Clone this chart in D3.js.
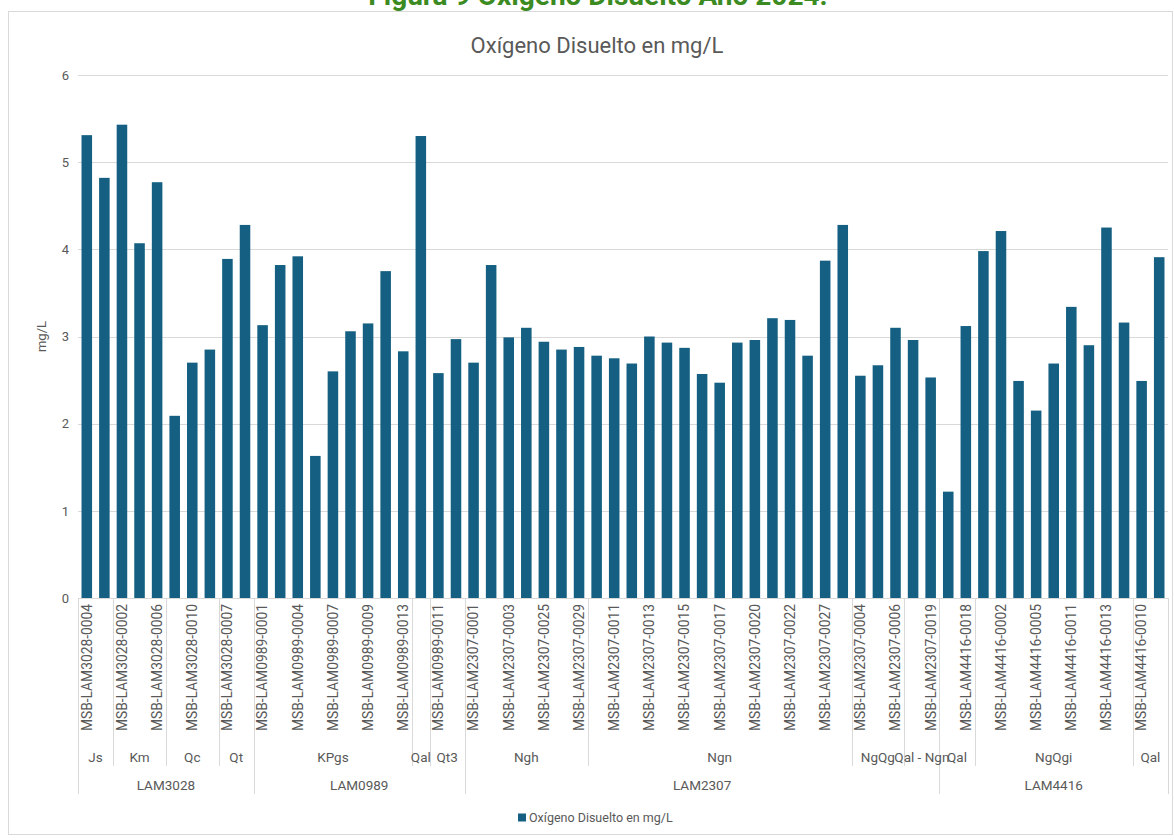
<!DOCTYPE html>
<html>
<head>
<meta charset="utf-8">
<script src="https://cdn.jsdelivr.net/npm/d3@7"></script>
<style>
  html, body { margin: 0; padding: 0; background: #fff; }
  svg { display: block; font-family: Roboto, "Noto Sans", sans-serif; }
</style>
</head>
<body>
<svg id="chart" width="1174" height="840"></svg>
<script>
// ---- data ----
const samples = [
  "MSB-LAM3028-0004","MSB-LAM3028-0001","MSB-LAM3028-0002","MSB-LAM3028-0003","MSB-LAM3028-0006",
  "MSB-LAM3028-0009","MSB-LAM3028-0010","MSB-LAM3028-0011","MSB-LAM3028-0007","MSB-LAM3028-0008",
  "MSB-LAM0989-0001","MSB-LAM0989-0002","MSB-LAM0989-0004","MSB-LAM0989-0005","MSB-LAM0989-0007",
  "MSB-LAM0989-0008","MSB-LAM0989-0009","MSB-LAM0989-0010","MSB-LAM0989-0013","MSB-LAM0989-0012",
  "MSB-LAM0989-0011","MSB-LAM0989-0003",
  "MSB-LAM2307-0001","MSB-LAM2307-0002","MSB-LAM2307-0003","MSB-LAM2307-0024","MSB-LAM2307-0025",
  "MSB-LAM2307-0028","MSB-LAM2307-0029","MSB-LAM2307-0010","MSB-LAM2307-0011","MSB-LAM2307-0012",
  "MSB-LAM2307-0013","MSB-LAM2307-0014","MSB-LAM2307-0015","MSB-LAM2307-0016","MSB-LAM2307-0017",
  "MSB-LAM2307-0018","MSB-LAM2307-0020","MSB-LAM2307-0021","MSB-LAM2307-0022","MSB-LAM2307-0023",
  "MSB-LAM2307-0027","MSB-LAM2307-0026","MSB-LAM2307-0004","MSB-LAM2307-0005","MSB-LAM2307-0006",
  "MSB-LAM2307-0009","MSB-LAM2307-0019",
  "MSB-LAM4416-0017","MSB-LAM4416-0018","MSB-LAM4416-0001","MSB-LAM4416-0002","MSB-LAM4416-0003",
  "MSB-LAM4416-0005","MSB-LAM4416-0006","MSB-LAM4416-0011","MSB-LAM4416-0012","MSB-LAM4416-0013",
  "MSB-LAM4416-0014","MSB-LAM4416-0010","MSB-LAM4416-0009"
];
const values = [
  5.31, 4.82, 5.43, 4.07, 4.77, 2.09, 2.70, 2.85, 3.89, 4.28,
  3.13, 3.82, 3.92, 1.63, 2.60, 3.06, 3.15, 3.75, 2.83, 5.30, 2.58, 2.97,
  2.70, 3.82, 2.99, 3.10, 2.94, 2.85, 2.88,
  2.78, 2.75, 2.69, 3.00, 2.93, 2.87, 2.57, 2.47, 2.93, 2.96, 3.21, 3.19, 2.78, 3.87, 4.28,
  2.55, 2.67, 3.10, 2.96, 2.53,
  1.22, 3.12, 3.98, 4.21, 2.49, 2.15, 2.69, 3.34, 2.90, 4.25, 3.16, 2.49, 3.91
];
const formationLabels = ["Js","Km","Qc","Qt","KPgs","Qal","Qt3","Ngh","Ngn","NgQg","Qal - Ngn","Qal","NgQgi","Qal"];
const formationCounts = [2, 3, 3, 2, 9, 1, 2, 7, 15, 3, 2, 2, 9, 2];
const planchaLabels = ["LAM3028","LAM0989","LAM2307","LAM4416"];
const planchaCounts = [10, 12, 27, 13];
const yTicks = [0, 1, 2, 3, 4, 5, 6];
const seriesName = "Oxígeno Disuelto en mg/L";
const figureTitle = "Figura 9 Oxígeno Disuelto Año 2024.";
const yLabel = "mg/L";

// ---- layout ----
const svg = d3.select("#chart");
const plot = { left: 78, right: 1168, top: 75, bottom: 598 };
const textColor = "#595959";
const gridColor = "#d9d9d9";
const barColor = "#156082";

// chart border
svg.append("rect").attr("x", 8.5).attr("y", 11.5).attr("width", 1164).attr("height", 823)
  .attr("fill", "#fff").attr("stroke", "#d9d9d9").attr("stroke-width", 1);

// figure title (partly cut at top, as in the reference)
svg.append("text").attr("x", 598).attr("y", 5).attr("text-anchor", "middle")
  .attr("font-size", 28).attr("font-weight", 700).attr("fill", "#3b8b22")
  .text(figureTitle);

// chart title
svg.append("text").attr("x", 597).attr("y", 53).attr("text-anchor", "middle")
  .attr("font-size", 22).attr("fill", textColor).text(seriesName);

const x = d3.scaleBand().domain(samples).range([plot.left, plot.right]).paddingInner(0.4).paddingOuter(0.2);
const y = d3.scaleLinear().domain([0, 6]).range([plot.bottom, plot.top]);

// gridlines
svg.append("g").selectAll("line").data(yTicks).join("line")
  .attr("x1", plot.left).attr("x2", plot.right)
  .attr("y1", d => Math.round(y(d)) + 0.5).attr("y2", d => Math.round(y(d)) + 0.5)
  .attr("stroke", gridColor).attr("stroke-width", 1);

// y axis
const yAxis = d3.axisLeft(y).tickValues(yTicks).tickSize(0).tickPadding(0).tickFormat(d3.format("d"));
const gy = svg.append("g").attr("transform", `translate(${plot.left - 9},0)`).call(yAxis);
gy.select(".domain").remove();
gy.selectAll("text").attr("fill", textColor).attr("font-size", 13).attr("font-family", "Roboto, sans-serif");

svg.append("text").attr("transform", `translate(46,${(plot.top + plot.bottom) / 2}) rotate(-90)`)
  .attr("text-anchor", "middle").attr("font-size", 13).attr("fill", textColor).text(yLabel);

// bars
svg.append("g").selectAll("rect").data(samples).join("rect")
  .attr("x", d => x(d)).attr("width", x.bandwidth())
  .attr("y", (d, i) => y(values[i])).attr("height", (d, i) => y(0) - y(values[i]))
  .attr("fill", barColor);

// category axis level 1 (sample ids, every other label shown)
const xAxis = d3.axisBottom(x).tickValues(samples.filter((d, i) => i % 2 === 0)).tickSize(0).tickPadding(0);
const gx = svg.append("g").attr("transform", `translate(0,${plot.bottom})`).call(xAxis);
gx.select(".domain").remove();
gx.selectAll("text")
  .attr("transform", "rotate(-90)")
  .attr("text-anchor", "end").attr("x", -6).attr("y", 0).attr("dy", "0.35em")
  .attr("fill", textColor).attr("font-size", 13.8).attr("font-family", "Roboto, sans-serif");

// group levels
function groups(labels, counts) {
  let acc = 0;
  return labels.map((l, i) => {
    const g = { label: l, start: acc, end: acc + counts[i] };
    acc += counts[i];
    return g;
  });
}
const level2 = groups(formationLabels, formationCounts);
const level3 = groups(planchaLabels, planchaCounts);
const bx = idx => plot.left + idx * (plot.right - plot.left) / samples.length;

const level3Bounds = new Set();
level3.forEach(g => { level3Bounds.add(g.start); level3Bounds.add(g.end); });
const level2Bounds = new Set();
level2.forEach(g => { level2Bounds.add(g.start); level2Bounds.add(g.end); });

const sep = svg.append("g").attr("stroke", gridColor).attr("stroke-width", 1);
level2Bounds.forEach(b => {
  if (level3Bounds.has(b)) return;
  sep.append("line").attr("x1", Math.round(bx(b)) + 0.5).attr("x2", Math.round(bx(b)) + 0.5)
    .attr("y1", plot.bottom).attr("y2", 766);
});
level3Bounds.forEach(b => {
  sep.append("line").attr("x1", Math.round(bx(b)) + 0.5).attr("x2", Math.round(bx(b)) + 0.5)
    .attr("y1", plot.bottom).attr("y2", 794);
});

svg.append("g").selectAll("text").data(level2).join("text")
  .attr("x", d => (bx(d.start) + bx(d.end)) / 2).attr("y", 762)
  .attr("text-anchor", "middle").attr("font-size", 13.5).attr("fill", textColor)
  .text(d => d.label);

svg.append("g").selectAll("text").data(level3).join("text")
  .attr("x", d => (bx(d.start) + bx(d.end)) / 2).attr("y", 790)
  .attr("text-anchor", "middle").attr("font-size", 13.5).attr("fill", textColor)
  .text(d => d.label);

// legend
const lg = svg.append("g").attr("transform", "translate(518,818)");
lg.append("rect").attr("x", 0).attr("y", -4.5).attr("width", 8).attr("height", 8).attr("fill", barColor);
lg.append("text").attr("x", 11).attr("y", 0).attr("dy", "0.35em")
  .attr("font-size", 12.5).attr("fill", textColor).text(seriesName);
</script>
</body>
</html>
